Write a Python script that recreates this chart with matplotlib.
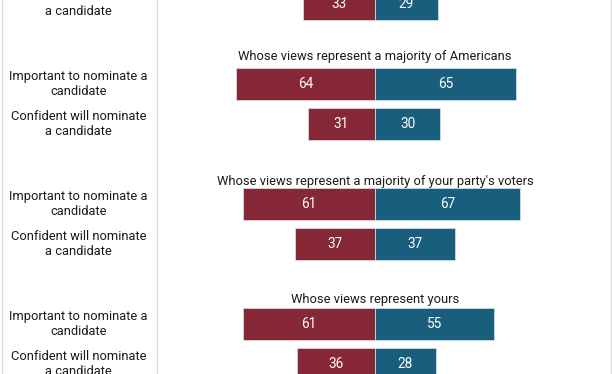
import matplotlib
matplotlib.use("Agg")
import matplotlib.pyplot as plt
from matplotlib.lines import Line2D

plt.rcParams["font.family"] = ["Roboto", "DejaVu Sans"]

# Data (first group is cut off at the top of the picture)
titles = [None,
          "Whose views represent a majority of Americans",
          "Whose views represent a majority of your party's voters",
          "Whose views represent yours"]
important_rep = [None, 64, 61, 61]
important_dem = [None, 65, 67, 55]
confident_rep = [33, 31, 37, 36]
confident_dem = [29, 30, 37, 28]
row_labels = ["Important to nominate a\ncandidate", "Confident will nominate\na candidate"]

# how far each title sits above its first bar (in row units)
title_gap = [0.68, 0.68, 0.55, 0.62]

red = "#862735"
blue = "#1a5e7e"
edge = "#d0dbe2"

fig = plt.figure(figsize=(6.12, 3.74), dpi=100)
ax = fig.add_axes([0, 0, 1, 1])
ax.set_xlim(-172.8, 109.2)
ax.set_ylim(10.25, 0.9)
ax.axis("off")

lbl_tr = ax.get_yaxis_transform()
bar_h = 0.8

for g in range(len(titles)):
    y_imp = 3 * g
    y_conf = 3 * g + 1
    rows = [(y_imp, important_rep[g], important_dem[g]),
            (y_conf, confident_rep[g], confident_dem[g])]
    for (y, r, d), lab in zip(rows, row_labels):
        if r is None:
            continue
        ax.barh(y, -r, height=bar_h, color=red, edgecolor=edge, linewidth=0.6)
        ax.barh(y, d, height=bar_h, color=blue, edgecolor=edge, linewidth=0.6)
        ax.text(-r / 2, y, str(r), color="white", ha="center", va="center", fontsize=9.8)
        ax.text(d / 2, y, str(d), color="white", ha="center", va="center", fontsize=9.8)
        ax.text(0.128, y, lab, transform=lbl_tr, ha="center", va="center",
                fontsize=9.3, color="#1a1a1a", linespacing=1.22)
    if titles[g]:
        ax.text(0, y_imp - title_gap[g], titles[g], ha="center", va="center",
                fontsize=9.3, color="#1a1a1a")

# frame lines
for xf in [1.5 / 612, 157.5 / 612, 610.5 / 612]:
    fig.add_artist(Line2D([xf, xf], [0, 1], transform=fig.transFigure,
                          color="#dddddd", linewidth=1))

fig.savefig("out.png", dpi=100)
